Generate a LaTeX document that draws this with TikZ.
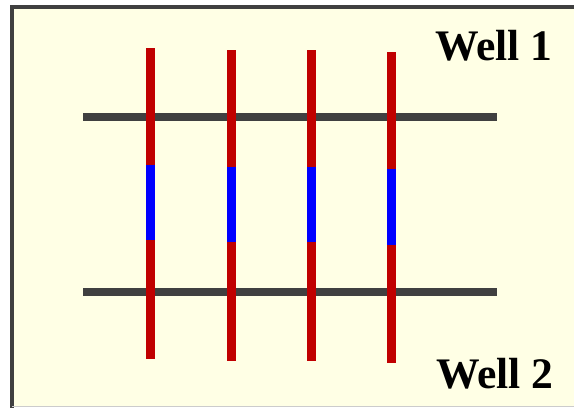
\documentclass[tikz,border=0pt]{standalone}
\usepackage{fontspec}
\setmainfont{Liberation Serif}
\usepackage{tikz}
\definecolor{fondo}{HTML}{FFFFE5}
\definecolor{marco}{HTML}{404040}
\definecolor{rojo}{HTML}{C00000}

\begin{document}
\begin{tikzpicture}[x=0.025cm,y=-0.025cm]
\tikzset{pozo/.style={line width=5.7pt,marco},
         fractura/.style={line width=6.4pt,rojo},
         zona/.style={line width=6.4pt,blue}}
\useasboundingbox (0,0) rectangle (574,408);

% Marco
\fill[fondo] (12,7) rectangle (574,406);
\draw[line width=2.8pt,marco] (12,408) -- (12,7) -- (574,7);
\draw[line width=0.6pt,black!20] (12,406.5) -- (574,406.5);

% Pozos
\coordinate (p1a) at (83,117);
\coordinate (p1b) at (497,117);
\coordinate (p2a) at (83,292);
\coordinate (p2b) at (497,292);
\node (w1) at (553,60) [anchor=base east,inner sep=0pt,font=\fontsize{31}{31}\selectfont\bfseries] {Well 1};
\node (w2) at (554,388) [anchor=base east,inner sep=0pt,font=\fontsize{31}{31}\selectfont\bfseries] {Well 2};

% Fracturas
\coordinate (f1a) at (150.5,48);
\coordinate (f1b) at (150.5,359);
\coordinate (f2a) at (231,50.3);
\coordinate (f2b) at (231,361);
\coordinate (f3a) at (311,50.3);
\coordinate (f3b) at (311,361);
\coordinate (f4a) at (391.5,52.3);
\coordinate (f4b) at (391.5,363);
% zonas azules
\coordinate (z1a) at (150.5,164.5);
\coordinate (z1b) at (150.5,240);
\coordinate (z2a) at (231,166.7);
\coordinate (z2b) at (231,242.3);
\coordinate (z3a) at (311,166.7);
\coordinate (z3b) at (311,242.3);
\coordinate (z4a) at (391.5,169);
\coordinate (z4b) at (391.5,245);

\draw[pozo] (p1a) -- (p1b);
\draw[pozo] (p2a) -- (p2b);

\draw[fractura] (f1a) -- (f1b);
\draw[fractura] (f2a) -- (f2b);
\draw[fractura] (f3a) -- (f3b);
\draw[fractura] (f4a) -- (f4b);

\draw[zona] (z1a) -- (z1b);
\draw[zona] (z2a) -- (z2b);
\draw[zona] (z3a) -- (z3b);
\draw[zona] (z4a) -- (z4b);

\end{tikzpicture}
\end{document}
